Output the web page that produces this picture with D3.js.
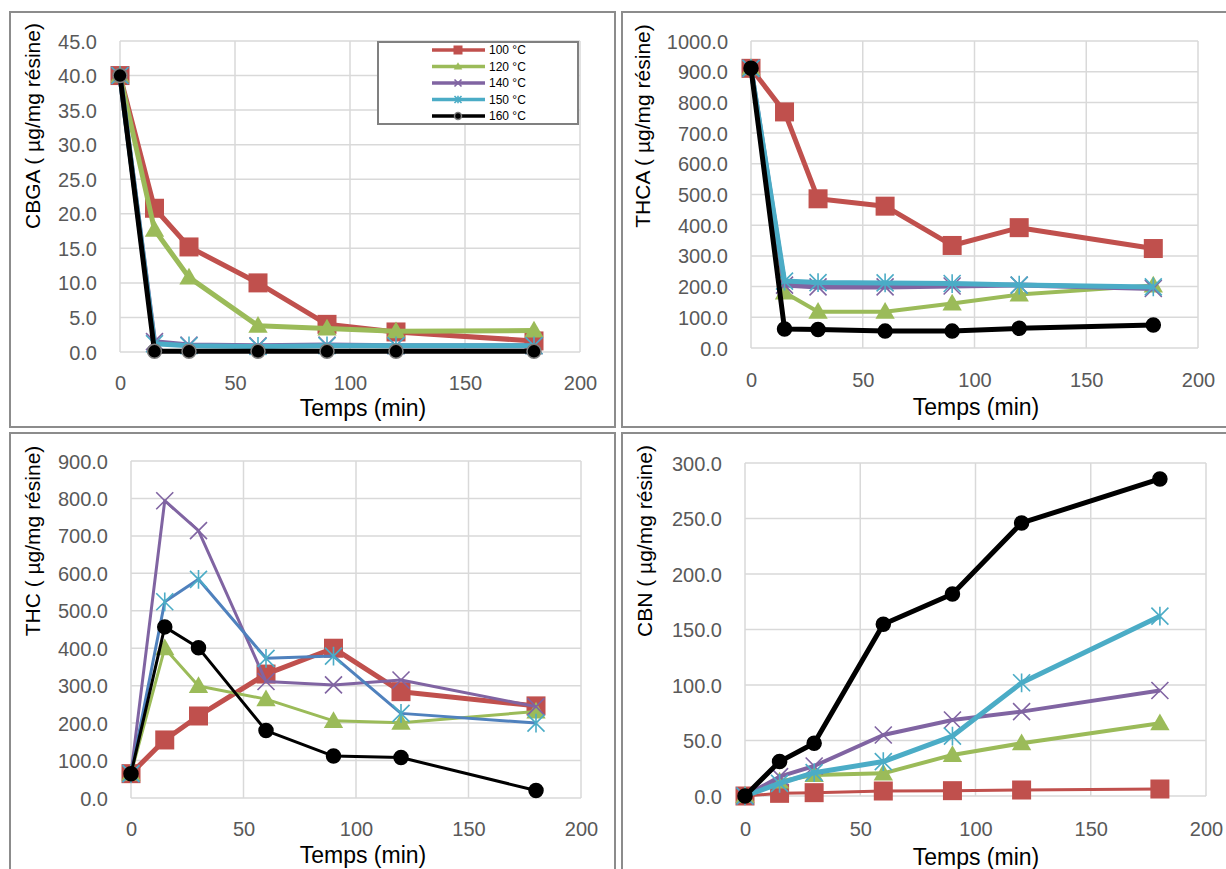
<!DOCTYPE html>
<html>
<head>
<meta charset="utf-8">
<script src="https://cdn.jsdelivr.net/npm/d3@7"></script>
<style>
  html, body { margin: 0; padding: 0; background: #fff; }
  svg { display: block; font-family: "Liberation Sans", Arial, sans-serif; }
</style>
</head>
<body>
<svg id="chart" width="1226" height="869"></svg>
<script>
// ---------- DATA ----------
const times = [0, 15, 30, 60, 90, 120, 180];
const seriesNames = ["100 °C", "120 °C", "140 °C", "150 °C", "160 °C"];
const xTicks = [0, 50, 100, 150, 200];

const cbga100 = [40.0, 20.8, 15.2, 10.0, 4.0, 2.9, 1.6];
const cbga120 = [40.0, 17.7, 10.8, 3.8, 3.4, 3.0, 3.1];
const cbga140 = [40.0, 1.5, 1.0, 0.9, 1.0, 0.9, 0.9];
const cbga150 = [40.0, 1.2, 0.9, 0.8, 0.9, 0.9, 0.9];
const cbga160 = [40.0, 0.1, 0.1, 0.1, 0.1, 0.1, 0.1];

const thca100 = [911, 769, 486, 462, 334, 392, 324];
const thca120 = [911, 181, 118, 118, 145, 174, 204];
const thca140 = [911, 205, 199, 199, 202, 205, 194];
const thca150 = [911, 218, 213, 212, 210, 205, 199];
const thca160 = [911, 62, 60, 55, 55, 64, 75];

const thc100 = [65, 155, 219, 331, 400, 284, 246];
const thc120 = [65, 400, 299, 264, 206, 201, 231];
const thc140 = [65, 794, 714, 311, 302, 315, 244];
const thc150 = [65, 524, 584, 373, 379, 226, 200];
const thc160 = [65, 457, 401, 180, 112, 108, 20];

const cbn100 = [0, 2.4, 3.0, 4.5, 4.8, 5.4, 6.3];
const cbn120 = [0, 13, 19, 20.4, 37, 47.5, 65.5];
const cbn140 = [0, 17.4, 27, 55, 68.5, 76, 95];
const cbn150 = [0, 11.4, 21, 31, 54, 102, 162];
const cbn160 = [0, 31, 47.5, 154.7, 182, 246, 285.6];

const yTicksCBGA = [0, 5, 10, 15, 20, 25, 30, 35, 40, 45];
const yTicksTHCA = [0, 100, 200, 300, 400, 500, 600, 700, 800, 900, 1000];
const yTicksTHC = [0, 100, 200, 300, 400, 500, 600, 700, 800, 900];
const yTicksCBN = [0, 50, 100, 150, 200, 250, 300];

// ---------- STYLE / LAYOUT ----------
const colors = ["#C0504D", "#9BBB59", "#8064A2", "#4BACC6", "#000000"];
const markerTypes = ["square", "triangle", "x", "star", "circle"];

const panels = [
  { title: "CBGA ( µg/mg résine)", series: [cbga100, cbga120, cbga140, cbga150, cbga160], yTicks: yTicksCBGA, ymax: 45,
    frame: [10, 12, 605, 415], plot: [120, 41, 580, 352], ytx: 33, yty: 126, xtY: 383, xtitle: [363, 408],
    widths: [5, 5, 5, 5, 5], legend: true, circleStroke: "#7F7F7F" },
  { title: "THCA ( µg/mg résine)", series: [thca100, thca120, thca140, thca150, thca160], yTicks: yTicksTHCA, ymax: 1000,
    frame: [622, 12, 620, 415], plot: [751, 41, 1198, 348], ytx: 643, yty: 126, xtY: 380, xtitle: [976, 407],
    widths: [5, 4, 5, 5, 5], legend: false, circleStroke: "#000" },
  { title: "THC ( µg/mg résine)", series: [thc100, thc120, thc140, thc150, thc160], yTicks: yTicksTHC, ymax: 900,
    frame: [10, 433, 605, 450], plot: [131, 461, 581, 798], ytx: 33, yty: 541, xtY: 829, xtitle: [363, 855],
    widths: [5, 3, 3, 3, 3], legend: false, circleStroke: "#000", blueLine: "#4F81BD" },
  { title: "CBN ( µg/mg résine)", series: [cbn100, cbn120, cbn140, cbn150, cbn160], yTicks: yTicksCBN, ymax: 300,
    frame: [622, 433, 620, 450], plot: [745, 463, 1206, 796], ytx: 645, yty: 541, xtY: 829, xtitle: [976, 857],
    widths: [3, 4, 4, 5, 5], legend: false, circleStroke: "#000" }
];

const svg = d3.select("#chart");
const defs = svg.append("defs");

function markerPath(type, size) {
  const h = size / 2;
  if (type === "x") return `M${-h},${-h}L${h},${h}M${-h},${h}L${h},${-h}`;
  if (type === "star") return `M${-h},${-h}L${h},${h}M${-h},${h}L${h},${-h}M0,${-h * 1.1}L0,${h * 1.1}`;
  return null;
}

function drawMarker(g, type, color, x, y, size, circleStroke) {
  if (type === "square") {
    g.append("rect").attr("x", x - size / 2).attr("y", y - size / 2).attr("width", size).attr("height", size)
      .attr("fill", color);
  } else if (type === "triangle") {
    g.append("path").attr("transform", `translate(${x},${y + size * 0.08})`)
      .attr("d", d3.symbol().type(d3.symbolTriangle).size(size * size * 0.5)()).attr("fill", color);
  } else if (type === "circle") {
    g.append("circle").attr("cx", x).attr("cy", y).attr("r", size / 2).attr("fill", "#000")
      .attr("stroke", circleStroke).attr("stroke-width", 1.5);
  } else {
    g.append("path").attr("transform", `translate(${x},${y})`).attr("d", markerPath(type, size))
      .attr("stroke", color).attr("stroke-width", 1.6).attr("fill", "none");
  }
}

panels.forEach((p, pi) => {
  const [fx, fy, fw, fh] = p.frame;
  const clipId = "clip" + pi;
  defs.append("clipPath").attr("id", clipId).append("rect").attr("x", fx).attr("y", fy).attr("width", fw).attr("height", fh);
  const g = svg.append("g").attr("clip-path", `url(#${clipId})`);

  const [x0, y0, x1, y1] = p.plot;
  const x = d3.scaleLinear().domain([0, 200]).range([x0, x1]);
  const y = d3.scaleLinear().domain([0, p.ymax]).range([y1, y0]);

  // gridlines
  g.append("g").selectAll("line.h").data(p.yTicks).join("line")
    .attr("x1", x0).attr("x2", x1).attr("y1", d => y(d)).attr("y2", d => y(d))
    .attr("stroke", "#D9D9D9").attr("stroke-width", 1.5);
  g.append("g").selectAll("line.v").data(xTicks).join("line")
    .attr("x1", d => x(d)).attr("x2", d => x(d)).attr("y1", y0).attr("y2", y1)
    .attr("stroke", "#D9D9D9").attr("stroke-width", 1.5);

  // axes (labels only)
  const ya = g.append("g").attr("transform", `translate(${x0 - 23},0)`)
    .call(d3.axisLeft(y).tickValues(p.yTicks).tickFormat(d3.format(".1f")).tickSize(0).tickPadding(0));
  ya.select(".domain").remove();
  ya.selectAll("text").attr("fill", "#595959").style("font-size", "20px").attr("dy", "0.35em")
    .style("font-family", '"Liberation Sans", Arial, sans-serif');

  const xa = g.append("g").attr("transform", `translate(0,${p.xtY - 7})`)
    .call(d3.axisBottom(x).tickValues(xTicks).tickFormat(d3.format("d")).tickSize(0).tickPadding(0));
  xa.select(".domain").remove();
  xa.selectAll("text").attr("fill", "#595959").style("font-size", "20px").attr("dy", "0.71em")
    .attr("y", 0).style("font-family", '"Liberation Sans", Arial, sans-serif');

  // axis titles
  g.append("text").attr("x", p.xtitle[0]).attr("y", p.xtitle[1]).attr("text-anchor", "middle")
    .attr("dy", "0.35em").style("font-size", "23px").attr("fill", "#000").text("Temps (min)");
  g.append("text").attr("transform", `translate(${p.ytx},${p.yty}) rotate(-90)`).attr("text-anchor", "middle")
    .attr("dy", "0.35em").style("font-size", "21px").attr("fill", "#000").text(p.title);

  // series
  const line = d3.line().x((d, i) => x(times[i])).y(d => y(d));
  p.series.forEach((vals, si) => {
    const col = colors[si];
    const lineCol = (si === 3 && p.blueLine) ? p.blueLine : col;
    const sg = g.append("g");
    sg.append("path").datum(vals).attr("d", line).attr("fill", "none")
      .attr("stroke", lineCol).attr("stroke-width", p.widths[si]).attr("stroke-linejoin", "round");
    const size = { square: 19, triangle: 18, x: 17, star: 17, circle: 14 }[markerTypes[si]];
    vals.forEach((v, i) => drawMarker(sg, markerTypes[si], col, x(times[i]), y(v), size, p.circleStroke));
  });

  // legend
  if (p.legend) {
    const lg = g.append("g");
    lg.append("rect").attr("x", 378).attr("y", 42).attr("width", 200).attr("height", 82)
      .attr("fill", "#fff").attr("stroke", "#808080").attr("stroke-width", 2);
    seriesNames.forEach((name, si) => {
      const ly = 50 + si * 16.5;
      lg.append("line").attr("x1", 432).attr("x2", 485).attr("y1", ly).attr("y2", ly)
        .attr("stroke", colors[si]).attr("stroke-width", 3.5);
      const ms = { square: 9, triangle: 8, x: 7, star: 7, circle: 7 }[markerTypes[si]];
      drawMarker(lg, markerTypes[si], colors[si], 458, ly, ms, "#7F7F7F");
      lg.append("text").attr("x", 489).attr("y", ly).attr("dy", "0.35em").style("font-size", "12px")
        .attr("fill", "#000").text(name);
    });
  }
});

// frames
panels.forEach(p => {
  const [fx, fy, fw, fh] = p.frame;
  svg.append("rect").attr("x", fx).attr("y", fy).attr("width", fw).attr("height", fh)
    .attr("fill", "none").attr("stroke", "#8C8C8C").attr("stroke-width", 2);
});
</script>
</body>
</html>
